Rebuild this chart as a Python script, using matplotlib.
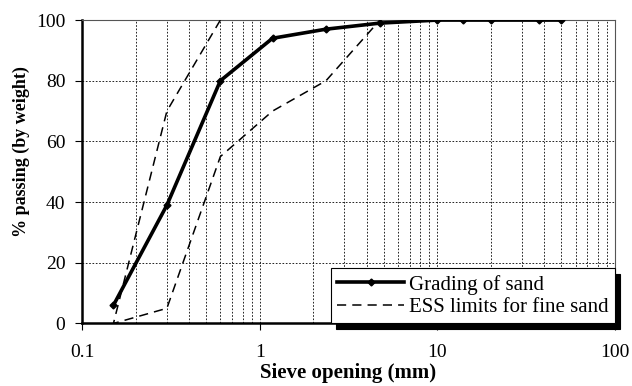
import matplotlib
matplotlib.use("Agg")
import matplotlib.pyplot as plt
from matplotlib.ticker import LogLocator, NullFormatter, FixedLocator, FixedFormatter

plt.rcParams['font.family'] = ['Liberation Serif', 'DejaVu Serif']

# Sieve analysis data
sieve_mm = [0.15, 0.3, 0.6, 1.18, 2.36, 4.75, 10, 14, 20, 37.5, 50]
passing = [6, 39, 80, 94, 97, 99, 100, 100, 100, 100, 100]

# ESS grading envelope for fine sand (upper then lower limit, one path)
ess_sieve = [0.6, 0.3, 0.15, 0.3, 0.6, 1.18, 2.36, 4.75]
ess_pass = [100, 70, 0, 5, 55, 70, 80, 100]

x_ticks = [0.1, 1, 10, 100]
x_labels = ['0.1', '1', '10', '100']
y_ticks = [0, 20, 40, 60, 80, 100]

fig = plt.figure(figsize=(6.32, 3.86), dpi=100)
ax = fig.add_axes([0.130, 0.162, 0.843, 0.786])

ax.plot(sieve_mm, passing, color='black', lw=2.6, marker='D', ms=3.5,
        label='Grading of sand', zorder=4)
ax.plot(ess_sieve, ess_pass, color='black', lw=1.1, ls=(0, (6, 4)),
        label='ESS limits for fine sand', zorder=3)

ax.set_xscale('log')
ax.set_xlim(0.1, 100)
ax.set_ylim(0, 100)
ax.xaxis.set_major_locator(FixedLocator(x_ticks))
ax.xaxis.set_major_formatter(FixedFormatter(x_labels))
ax.xaxis.set_minor_locator(LogLocator(base=10, subs=range(2, 10)))
ax.xaxis.set_minor_formatter(NullFormatter())
ax.set_yticks(y_ticks)

ax.grid(True, which='both', axis='x', color='black', ls=(0, (2, 2)), lw=0.6)
ax.grid(True, which='major', axis='y', color='black', ls=(0, (2, 2)), lw=0.6)
ax.tick_params(axis='x', which='minor', length=0)
ax.tick_params(axis='both', which='major', direction='out', length=5,
               labelsize=14, width=0.8)
ax.tick_params(axis='x', pad=10)
ax.tick_params(axis='y', pad=7)

for side in ['left', 'bottom']:
    ax.spines[side].set_linewidth(1.8)
for side in ['top', 'right']:
    ax.spines[side].set_linewidth(0.8)
    ax.spines[side].set_color('#555555')

ax.set_xlabel('Sieve opening (mm)', fontsize=15, fontweight='bold', labelpad=1)
ax.set_ylabel('% passing (by weight)', fontsize=13, fontweight='bold')
ax.yaxis.set_label_coords(-0.097, 0.565)

leg = ax.legend(loc='lower right', bbox_to_anchor=(1.0, 0.0), borderaxespad=0,
                fontsize=15, frameon=True, fancybox=False, edgecolor='black',
                framealpha=1, handlelength=3.2, handletextpad=0.25,
                borderpad=0.3, labelspacing=0.15,
                shadow={'color': 'black', 'alpha': 1, 'ox': 4, 'oy': -4})
leg.get_frame().set_linewidth(0.8)
leg.set_zorder(10)

fig.savefig('out.png', dpi=100)
